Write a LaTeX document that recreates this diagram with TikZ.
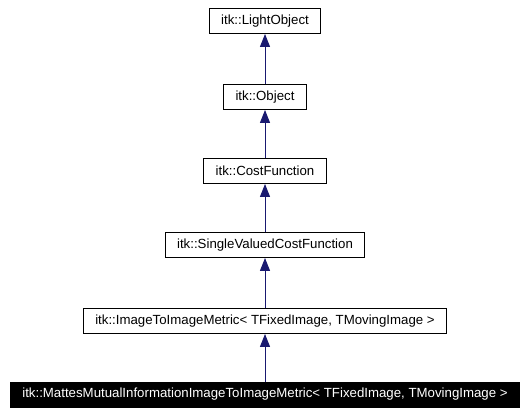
\documentclass[tikz,border=0pt]{standalone}
\usepackage{fontspec}
\setmainfont{Liberation Sans}
\usetikzlibrary{arrows.meta}
\definecolor{ClassEdge}{HTML}{191970}
\definecolor{ClassLine}{HTML}{000000}
\definecolor{ClassFocus}{HTML}{000000}
\tikzset{
  classbox/.style={draw=ClassLine,line width=0.9bp,fill=white,inner xsep=12bp,
    minimum height=25bp,font=\fontsize{13.3}{16}\selectfont},
  focusbox/.style={classbox,fill=ClassFocus,text=white},
  inherit/.style={ClassEdge,line width=1bp,-{Triangle[length=13bp,width=10bp]}}
}

\begin{document}
\begin{tikzpicture}[x=1bp,y=1bp]
      \useasboundingbox (0,0) rectangle (530,415);
      \node[classbox] (light) at (265,394) {itk::LightObject};
      \node[classbox] (object) at (265,318) {itk::Object};
      \node[classbox] (cost) at (265,244) {itk::CostFunction};
      \node[classbox] (single) at (265,170) {itk::SingleValuedCostFunction};
      \node[classbox] (metric) at (265,94) {itk::ImageToImageMetric< TFixedImage, TMovingImage >};
      \node[focusbox] (mattes) at (265,20.5) {itk::MattesMutualInformationImageToImageMetric< TFixedImage, TMovingImage >};
      \draw[inherit] (object) -- (light);
      \draw[inherit] (cost) -- (object);
      \draw[inherit] (single) -- (cost);
      \draw[inherit] (metric) -- (single);
      \draw[inherit] (mattes) -- (metric);
    \end{tikzpicture}
\end{document}
